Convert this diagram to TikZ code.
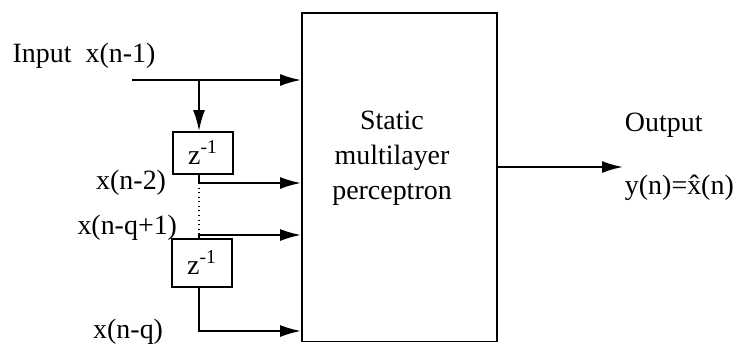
\documentclass[tikz,border=0pt]{standalone}
\usepackage{fontspec}
\setmainfont{Liberation Serif}
\usetikzlibrary{arrows.meta}

\begin{document}
\begin{tikzpicture}[x=0.02cm, y=-0.02cm, line width=1.1pt,
    >={Latex[length=0.42cm, width=0.24cm]},
    every node/.style={font=\fontsize{15.9pt}{19.9pt}\selectfont, inner sep=0pt},
    delay/.style={draw, rectangle, minimum width=1.2cm}]
    \useasboundingbox (0, 0) rectangle (733, 346);

    \node[draw, rectangle, minimum width=3.9cm, minimum height=6.58cm] at (399.5, 177) (mlp) {};
    \node[align=center] at (392, 158) (mlptext) {Static\\multilayer\\perceptron};
    \node[delay, minimum height=0.84cm] at (203, 153) (d1) {z\textsuperscript{-1}};
    \node[delay, minimum height=0.96cm] at (202, 263) (d2) {z\textsuperscript{-1}};

    % taps
    \coordinate (in) at (132, 80);
    \coordinate (b0) at (199, 80);
    \coordinate (t1) at (199, 183);
    \coordinate (t2) at (199, 235);
    \coordinate (t3) at (199, 331);
    \coordinate (out) at (623, 167);

    % labels
    \node at (84, 56) (lin) {Input\ \ x(n-1)};
    \node[anchor=east] at (167, 183) (l1) {x(n-2)};
    \node[anchor=east] at (178, 228) (l2) {x(n-q+1)};
    \node[anchor=east] at (164, 332) (l3) {x(n-q)};
    \node[anchor=west] at (624, 125) (lout) {Output};
    \node[anchor=west] at (624, 188) (ly) {y(n)=\^{x}(n)};

    % edges
    \draw[->] (in) -- (in -| mlp.west);
    \draw[->] (b0) -- (b0 |- d1.north);
    \draw[->] (b0 |- d1.south) -- (t1) -- (t1 -| mlp.west);
    \draw[dotted, line width=0.6pt] (t1) -- (t2);
    \draw[->] (b0 |- d2.north) -- (t2) -- (t2 -| mlp.west);
    \draw[->] (b0 |- d2.south) -- (t3) -- (t3 -| mlp.west);
    \draw[->] (mlp.east |- out) -- (out);
\end{tikzpicture}
\end{document}
